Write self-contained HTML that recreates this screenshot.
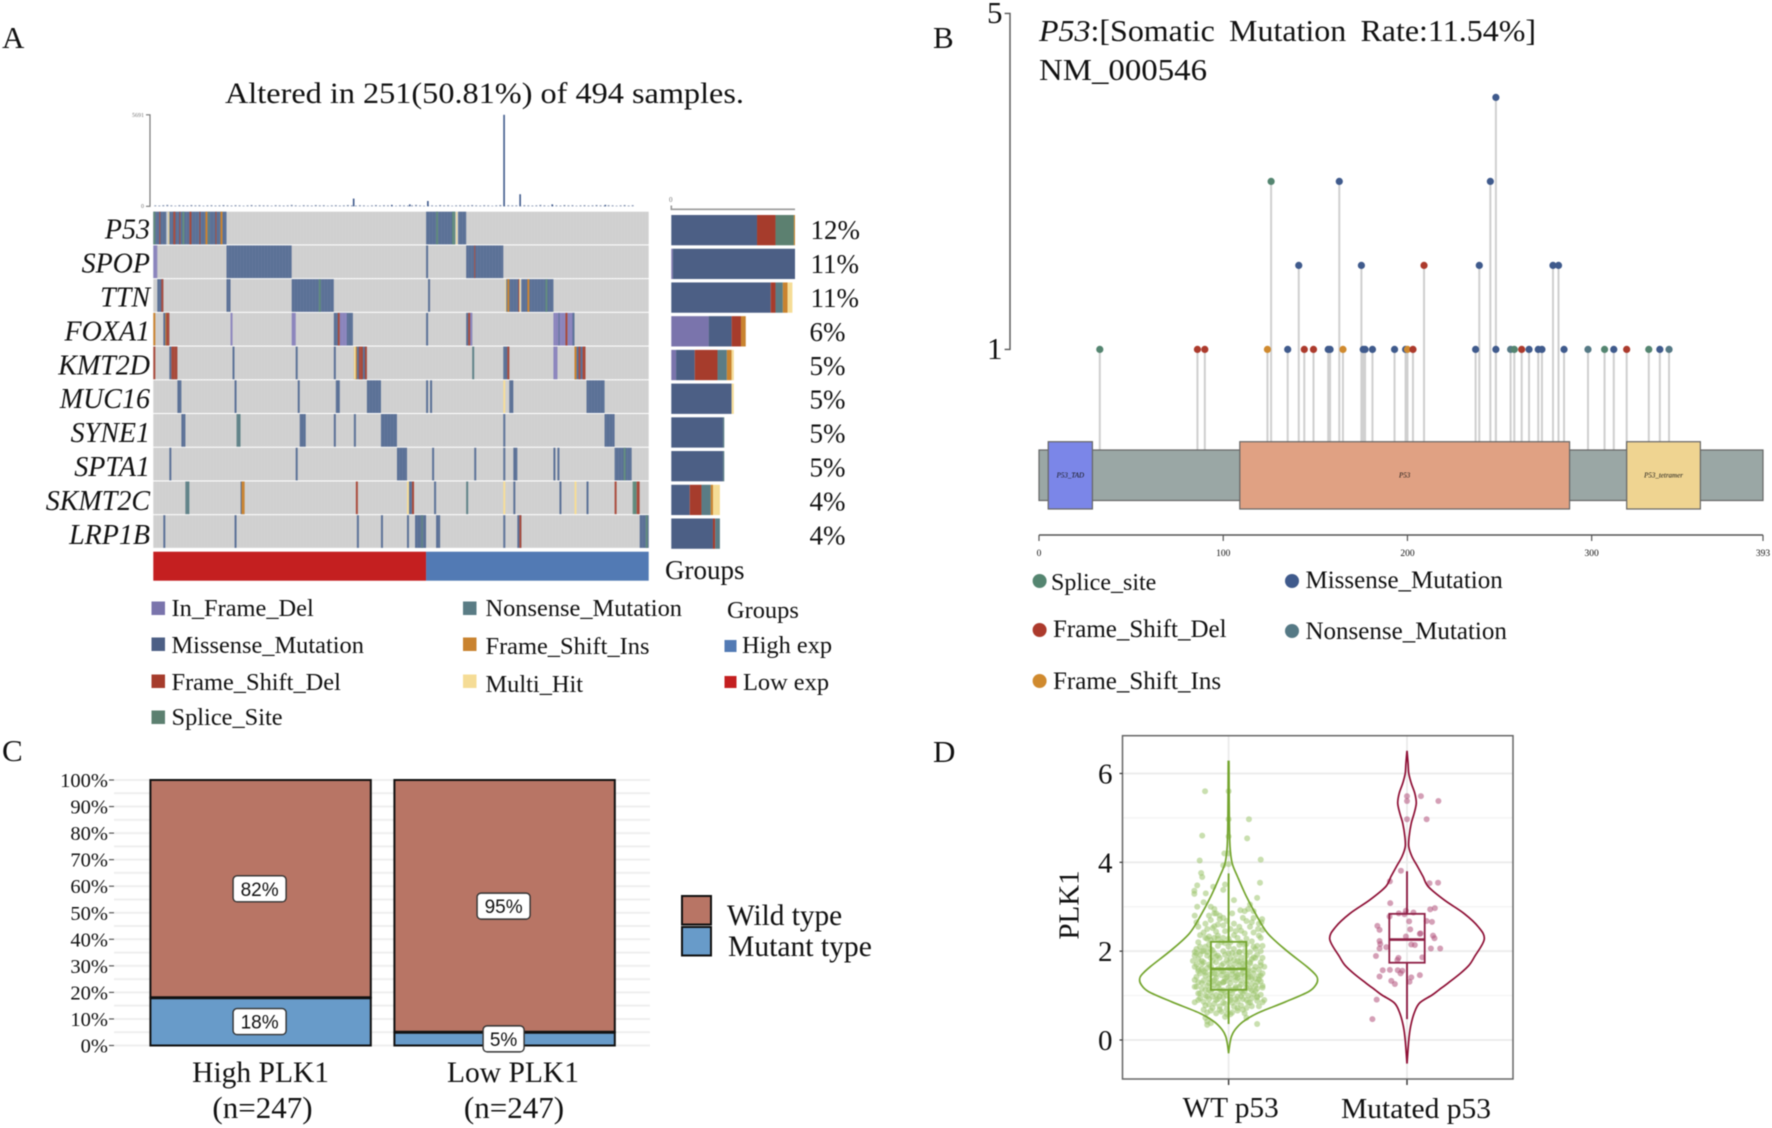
<!DOCTYPE html>
<html lang="en">
<head>
<meta charset="utf-8">
<title>P53 mutation figure</title>
<style>
html,body{margin:0;padding:0;background:#fff;}
svg{display:block;font-family:"Liberation Serif",serif;filter:blur(0.45px);}
text{fill:#111;}
</style>
</head>
<body>
<svg id="fig" xmlns="http://www.w3.org/2000/svg" width="1772" height="1128" viewBox="0 0 1772 1128">
<defs>
<pattern id="stripes" width="3" height="10" patternUnits="userSpaceOnUse"><rect width="1" height="10" fill="#fff" opacity="0.05"/></pattern>
</defs>
<rect width="1772" height="1128" fill="#fff"/>

<g id="panelA">
<text x="2" y="48" font-size="31">A</text>
<text x="225" y="103" font-size="30" textLength="519" lengthAdjust="spacingAndGlyphs">Altered in 251(50.81%) of 494 samples.</text>
<text x="665" y="579" font-size="27">Groups</text>

<g font-size="24.4">
<rect x="151.5" y="601.5" width="13.5" height="13.5" fill="#7a74ac"/>
<text x="171.5" y="616">In_Frame_Del</text>
<rect x="151.5" y="637.5" width="13.5" height="13.5" fill="#4c5f85"/>
<text x="171.5" y="653">Missense_Mutation</text>
<rect x="151.5" y="674.5" width="13.5" height="13.5" fill="#a63c2c"/>
<text x="171.5" y="690">Frame_Shift_Del</text>
<rect x="151.5" y="710.5" width="13.5" height="13.5" fill="#5c8070"/>
<text x="171.5" y="725">Splice_Site</text>
<rect x="463" y="601.5" width="13.5" height="13.5" fill="#5a7c85"/>
<text x="485.5" y="616">Nonsense_Mutation</text>
<rect x="463" y="637.5" width="13.5" height="13.5" fill="#c9832f"/>
<text x="485.5" y="654">Frame_Shift_Ins</text>
<rect x="463" y="674.5" width="13.5" height="13.5" fill="#f5dc96"/>
<text x="485.5" y="692">Multi_Hit</text>
<text x="727" y="618">Groups</text>
<rect x="724.5" y="640" width="12" height="12" fill="#527ab4"/>
<text x="742" y="653">High exp</text>
<rect x="724.5" y="676" width="12" height="12" fill="#c41f20"/>
<text x="743" y="690">Low exp</text>
</g>
</g>

<g id="panelB">
<text x="933" y="48" font-size="31">B</text>
<text x="1039" y="41" font-size="31" word-spacing="6" textLength="497" lengthAdjust="spacingAndGlyphs"><tspan font-style="italic">P53</tspan>:[Somatic Mutation Rate:11.54%]</text>
<text x="1039" y="80" font-size="31" textLength="168" lengthAdjust="spacingAndGlyphs">NM_000546</text>
<g font-size="25">
<circle cx="1039.6" cy="581" r="7" fill="#548570"/>
<text x="1051" y="590" font-size="24">Splice_site</text>
<circle cx="1039.6" cy="630" r="7" fill="#ac3a2c"/>
<text x="1053" y="637">Frame_Shift_Del</text>
<circle cx="1039.6" cy="681" r="7" fill="#d08a2e"/>
<text x="1053" y="689">Frame_Shift_Ins</text>
<circle cx="1292" cy="581" r="7" fill="#3f5a8c"/>
<text x="1305.5" y="588">Missense_Mutation</text>
<circle cx="1292" cy="631" r="7" fill="#557985"/>
<text x="1305.5" y="639">Nonsense_Mutation</text>
</g>
</g>

<g id="panelC">
<text x="2" y="761" font-size="31">C</text>
<g>
<rect x="682" y="896" width="29" height="28.5" fill="#b87565" stroke="#111" stroke-width="2"/>
<rect x="682" y="927" width="29" height="28.5" fill="#689bc9" stroke="#111" stroke-width="2"/>
<text x="727" y="925" font-size="29.3">Wild type</text>
<text x="728" y="956" font-size="29.6">Mutant type</text>
</g>
</g>

<g id="panelD">
<text x="933" y="762" font-size="31">D</text>
<text transform="translate(1078.5 905) rotate(-90)" text-anchor="middle" font-size="29">PLK1</text>
</g>
</svg>

<script>
/* ---------- Panel A data ---------- */
const geneNames = ['P53','SPOP','TTN','FOXA1','KMT2D','MUC16','SYNE1','SPTA1','SKMT2C','LRP1B'];
const genePercents = ['12%','11%','11%','6%','5%','5%','5%','5%','4%','4%'];
const groupSplit = [0,272,494];
const groupNames = ['Low exp','High exp'];
/* each entry: first sample, end sample, mutation class */
const mutsP53 = [[0,73,'M'],[0,2,'S'],[6,7,'D'],[13,15,'G'],[15,16,'H'],[20,22,'D'],[26,27,'D'],[29,31,'S'],[36,38,'D'],[46,47,'D'],[52,54,'I'],[55,56,'S'],[62,63,'D'],[67,69,'I'],[272,301,'M'],[282,284,'S'],[298,301,'S'],[302,303,'H'],[304,312,'M']];
const mutsSPOP = [[0,4,'F'],[73,138,'M'],[272,274,'M'],[312,349,'M'],[320,321,'D']];
const mutsTTN = [[4,10,'M'],[8,10,'D'],[73,77,'M'],[138,180,'M'],[165,167,'S'],[274,276,'M'],[351,352,'H'],[352,365,'M'],[353,355,'I'],[364,365,'D'],[365,366,'H'],[367,399,'M'],[373,375,'I'],[391,393,'S']];
const mutsFOXA1 = [[0,2,'I'],[10,16,'M'],[12,13,'I'],[13,16,'D'],[77,79,'F'],[138,142,'F'],[180,199,'M'],[184,186,'D'],[186,193,'F'],[272,274,'M'],[312,318,'M'],[314,316,'D'],[316,318,'F'],[399,420,'F'],[404,405,'M'],[411,413,'D'],[418,420,'M']];
const mutsKMT2D = [[0,2,'D'],[16,24,'M'],[18,24,'D'],[79,81,'M'],[142,144,'M'],[180,182,'M'],[200,213,'M'],[200,202,'H'],[202,203,'I'],[205,209,'D'],[211,213,'D'],[318,320,'N'],[349,355,'M'],[353,355,'D'],[399,403,'F'],[420,431,'M'],[420,422,'I'],[424,426,'D'],[428,431,'D']];
const mutsMUC16 = [[24,28,'M'],[81,83,'M'],[144,146,'M'],[182,186,'M'],[213,227,'M'],[272,274,'M'],[276,278,'M'],[349,351,'H'],[355,359,'M'],[432,450,'M']];
const mutsSYNE1 = [[28,32,'M'],[83,87,'N'],[146,152,'M'],[180,182,'M'],[200,202,'M'],[227,243,'M'],[349,351,'M'],[450,460,'M']];
const mutsSPTA1 = [[16,18,'M'],[142,144,'M'],[243,253,'M'],[278,280,'M'],[320,322,'M'],[349,351,'M'],[359,363,'M'],[399,401,'M'],[403,405,'M'],[460,477,'M'],[469,471,'S']];
const mutsSKMT2C = [[32,36,'N'],[87,91,'M'],[88,91,'I'],[202,204,'D'],[253,255,'H'],[255,258,'M'],[258,260,'D'],[280,282,'M'],[312,314,'N'],[349,351,'H'],[359,361,'M'],[405,407,'M'],[420,422,'H'],[432,434,'M'],[460,462,'D'],[478,482,'S'],[482,485,'D']];
const mutsLRP1B = [[10,12,'M'],[81,83,'M'],[203,205,'M'],[227,229,'M'],[253,255,'M'],[261,272,'M'],[267,269,'N'],[282,286,'M'],[349,351,'M'],[363,367,'M'],[365,367,'D'],[485,494,'M'],[491,493,'S']];
const geneMuts = [mutsP53,mutsSPOP,mutsTTN,mutsFOXA1,mutsKMT2D,mutsMUC16,mutsSYNE1,mutsSPTA1,mutsSKMT2C,mutsLRP1B];
/* side bar counts per class order: F M D S N I H */
const sideClasses = ['F','M','D','S','N','I','H'];
const sideP53 = [0,39.5,8.5,8.5,0,0.5,0];
const sideSPOP = [0.7,56.3,0,0,0,0,0];
const sideTTN = [0,45.8,2.2,0,3.4,2.2,2.2];
const sideFOXA1 = [17.2,10.6,4.3,0,0,2.2,0];
const sideKMT2D = [2.2,8.6,10.5,0,4.3,2.2,1];
const sideMUC16 = [0,27.8,0,0,0,0,1];
const sideSYNE1 = [0,23.8,0,0,0.6,0,0];
const sideSPTA1 = [0,23.8,0,0,0.6,0,0];
const sideSKMT2C = [0,8.5,5.4,0,4.3,1,3.2];
const sideLRP1B = [0,19.2,1,0,2.2,0,0];
const sideCounts = [sideP53,sideSPOP,sideTTN,sideFOXA1,sideKMT2D,sideMUC16,sideSYNE1,sideSPTA1,sideSKMT2C,sideLRP1B];
const sideMax = [57];
const tmbMax = [5691];
const tmbPeakSample = [199,237,255,273,349,365,397,450];
const tmbPeakValue = [480,90,120,330,5691,750,120,90];
const tmbLow = [60,50,70,90,60,40,70,60,50,80,60,70,40,60,70,50,60,80,60,50,70,60,40,60,80,50,70,60,60,40,70,60,50,60,90,60,40,70,60,50,80,60,70,40,60,70,50,60,80,60,50,70,60,40,60,80,50,70,60,60,40,70,60,50,60,90,60,40,70,60,50,80,60,70,40,60,70,50,60,80,60,50,70,60,40,60,80,50,70,60,60,40,70,60,50,60,90,60,40,70,60,50,80,60,70,40,60,70,50,60,80,60,50,70,60,40,60,80,50,70];

/* ---------- Panel B data ---------- */
const lolliPos = [33,86,90,124,135,144,149,157,158,165,176,177,181,193,199,200,203,237,248,256,258,262,266,271,273,285,298,307,312,319,331,337,342,141,175,209,239,279,282,126,163,245,248];
const lolliCount = [1,1,1,1,1,1,1,1,1,1,1,1,1,1,1,1,1,1,1,1,1,1,1,1,1,1,1,1,1,1,1,1,1,2,2,2,2,2,2,3,3,3,4];
const lolliType = ['S','D','D','I','M','D','D','M','M','I','M','M','M','M','M','I','D','M','M','N','S','D','M','M','M','M','N','S','M','D','S','M','N','M','M','D','M','M','M','S','M','M','M'];
const domainNames = ['P53_TAD','P53','P53_tetramer'];
const domainStart = [5,109,319];
const domainEnd = [29,288,359];
const proteinLength = [393];
const proteinTicks = [0,100,200,300,393];
const lolliYTicks = [1,5];

/* ---------- Panel C data ---------- */
const barCategories = ['High PLK1','Low PLK1'];
const barSampleLabels = ['(n=247)','(n=247)'];
const mutantPct = [18,5];
const wildPct = [82,95];
const pctTicks = [0,10,20,30,40,50,60,70,80,90,100];
const pctGrid = [0,5,10,15,20,25,30,35,40,45,50,55,60,65,70,75,80,85,90,95,100];

/* ---------- Panel D data ---------- */
const violinCats = ['WT p53','Mutated p53'];
const plkTicks = [0,2,4,6];
const plkGrid = [0,1,2,3,4,5,6];
const wtDensV = [6.27,4.95,4.35,3.98,3.68,3.23,2.78,2.40,2.03,1.65,1.46,1.35,1.24,1.09,0.86,0.60,0.41,0.23,0.08,-0.11,-0.30];
const wtDens = [0.004,0.008,0.016,0.04,0.1,0.2,0.32,0.44,0.64,0.88,0.98,1,0.98,0.9,0.64,0.32,0.16,0.072,0.032,0.012,0];
const mutDensV = [6.51,6.23,6.0,5.78,5.55,5.33,5.1,4.88,4.58,4.35,4.13,3.9,3.68,3.45,3.15,2.85,2.55,2.27,1.88,1.69,1.5,1.28,1.13,1.01,0.83,0.6,0.3,0,-0.53];
const mutDens = [0,0.012,0.02,0.048,0.088,0.104,0.08,0.048,0.024,0.02,0.056,0.12,0.18,0.24,0.42,0.64,0.8,0.868,0.76,0.7,0.6,0.46,0.36,0.28,0.14,0.08,0.04,0.02,0];
const wtBox = [0.36,1.13,1.6,2.21,3.75];
const mutBox = [0.47,1.74,2.26,2.84,3.8];
const wtJitter = [
-.132,0,.114,0,-.148,.104,0,-.024,0,-.162,
.18,-.03,0,-.154,-.148,-.176,.176,-.02,-.086,-.192,
-.192,-.128,-.03,.16,-.14,-.176,-.1,-.08,-.07,.12,
.11,.09,.066,.03,.02,-.11,-.08,-.05,-.03,.14,
-.19,-.18,-.17,.188,.184,.17,.19,.14,.1,.08,
-.09,-.08,-.06,-.03,-.02,.01,.03,.06,.09,.12,
-.14,-.13,-.12,-.11,-.1,-.08,-.06,-.04,0,.03,
.07,.1,.14,.165,.18,-.18,-.17,-.15,-.13,-.11,
-.09,-.06,-.03,0,.03,.06,.09,.12,.15,.18,
-.19,-.16,-.14,-.12,-.08,-.05,-.02,.01,.04,.07,
.1,.13,.16,.19,-.18,-.15,-.11,-.07,-.04,0,
.03,.06,.09,.12,.15,.18,-.19,-.17,-.14,-.12,
-.09,-.06,-.03,0,.04,.08,.11,.14,.17,.2,
-.18,-.16,-.13,-.1,-.07,-.04,-.01,.02,.05,.09,
.12,.15,.18,-.19,-.17,-.14,-.11,-.08,-.05,-.02,
.01,.04,.07,.1,.13,.16,.19,-.18,-.15,-.12,
-.09,-.06,-.03,0,.03,.06,.09,.12,.15,.19,
-.16,-.13,-.1,-.07,-.04,-.01,.02,.05,.08,.11,
.14,.16,.18,.2,-.19,-.17,-.14,-.11,-.07,-.03,
.01,.05,.08,.12,.16,.19,-.13,-.09,-.05,-.01,
.03,.07,.1,.13,-.12,-.1,-.07,-.04,-.01,.02,
.05,.09,-.13,-.12,-.1,.1,-.02,.01,-.12,.16,
-.07,-.01,.05,.11,.17,-.15,-.08,-.02,.04,.1,
.13,.07,-.05,-.11,-.17,.17,-.03,.02,.08,.14,
-.18,-.15,-.12,-.09,-.06,-.03,0,.03,.06,.09,
.12,.15,.18,-.17,-.13,-.1,-.07,-.04,-.01,.02,
.05,.08,.11,.14,.17,.19,-.19,-.15,-.11,-.08,
-.05,-.02,.01,.04,.07,.1,.13,.16,-.16,-.12,
-.09,-.06,-.03,.01,.04,.07,.1,.13,.16,-.14,
-.11,-.08,-.05,-.02,.02,.05,.08,.11,-.13,-.1,
-.05,-.01,.04,.07,.13,.17,-.16,-.12,-.07,-.03,
.01,.05,.09,.13,.16,-.19,-.16,-.1,-.06,-.02,
.02,.06,.1,.14,.19,-.2,-.17,-.14,-.1,.06,
-.03,-.06,-.09,.01,.11,.15,.18,-.13,.04,.07];
const wtValues = [
5.6,5.6,4.97,4.97,4.6,4.54,4.58,4.2,4.2,4.04,
4.06,3.93,3.96,3.76,3.67,3.48,3.54,3.5,3.45,3.36,
3.29,3.3,3.38,3.2,3.1,3.0,3.0,2.95,2.85,3.05,
2.95,2.9,2.92,3.15,2.85,2.8,2.85,2.8,2.75,2.9,
2.8,2.65,2.55,2.72,2.65,2.62,2.48,2.75,2.68,2.75,
2.52,2.56,2.6,2.58,2.45,2.5,2.62,2.55,2.4,2.55,
2.42,2.3,2.28,2.33,2.25,2.3,2.35,2.2,2.28,2.36,
2.2,2.28,2.42,2.5,2.3,2.05,2.2,2.0,2.1,2.15,
2.02,2.12,2.0,2.1,2.05,2.14,2.0,1.98,2.05,2.0,
1.98,1.92,2.0,1.9,1.95,1.85,1.92,1.84,1.92,1.86,
1.9,1.82,1.92,1.85,1.7,1.78,1.7,1.75,1.68,1.74,
1.7,1.76,1.66,1.72,1.65,1.68,1.65,1.6,1.55,1.62,
1.58,1.6,1.55,1.62,1.52,1.6,1.55,1.5,1.58,1.65,
1.42,1.5,1.45,1.48,1.4,1.46,1.42,1.48,1.4,1.44,
1.42,1.38,1.45,1.35,1.3,1.34,1.28,1.35,1.26,1.32,
1.28,1.34,1.25,1.32,1.26,1.3,1.22,1.2,1.16,1.22,
1.15,1.2,1.12,1.18,1.14,1.2,1.1,1.16,1.1,1.18,
1.05,1.0,1.08,1.02,1.06,1.0,1.05,0.98,1.05,1.0,
1.04,0.98,1.02,0.9,0.85,0.9,0.86,0.92,0.9,0.84,
0.9,0.86,0.92,0.84,0.88,0.85,0.78,0.72,0.76,0.7,
0.75,0.78,0.72,0.76,0.62,0.66,0.6,0.64,0.58,0.62,
0.66,0.6,0.5,0.42,0.38,0.5,0.52,0.58,0.34,0.36,
1.88,1.8,1.78,1.6,1.44,1.6,1.5,1.38,1.2,1.26,
1.12,1.1,0.98,1.12,1.05,0.76,1.3,1.62,1.72,1.86,
1.95,1.72,1.98,1.78,1.9,1.72,1.95,1.8,1.98,1.78,
1.75,1.85,1.75,1.55,1.52,1.66,1.48,1.55,1.48,1.56,
1.46,1.52,1.48,1.58,1.36,1.5,1.2,1.28,1.38,1.24,
1.14,1.08,1.12,1.16,1.34,1.18,1.38,1.16,0.94,0.98,
0.98,0.92,0.96,0.96,0.92,0.98,0.9,0.94,0.96,0.68,
0.8,0.82,0.68,0.82,0.84,0.72,0.68,0.84,2.62,2.7,
2.72,2.68,2.45,2.46,2.65,2.35,2.36,2.5,2.44,2.3,
2.2,2.3,2.14,2.22,2.12,1.9,2.1,2.05,2.28,2.18,
1.96,1.98,2.16,2.1,2.12,1.78,1.82,1.75,1.85,1.68,
1.3,1.28,1.32,1.38,1.42,1.22,1.32,1.12,1.42,1.48];
const mutJitter = [0,.078,0,.176,0,.11,-.034,-.096,.126,.174,-.094,.156,.13,-.006,-.046,.036,-.014,-.098,.11,.14,.012,-.166,-.154,.018,.076,.072,.146,.154,-.006,-.154,-.15,.024,.044,-.116,-.154,.134,.186,-.174,.086,-.048,-.054,-.136,-.096,-.052,-.026,-.036,-.154,.072,.024,-.088,-.068,.014,-.17,-.194];
const mutValues = [5.49,5.49,5.38,5.38,4.97,4.97,3.81,3.57,3.53,3.54,3.08,2.97,2.94,2.91,2.85,2.87,2.83,2.78,2.68,2.66,2.67,2.57,2.48,2.49,2.40,2.39,2.35,2.29,2.33,2.23,2.16,2.15,2.14,2.09,2.06,2.06,2.06,1.89,1.86,1.85,1.80,1.57,1.58,1.57,1.56,1.50,1.43,1.46,1.41,1.33,1.26,1.31,0.91,0.47];

/* ---------- helpers ---------- */
const NS = 'http://www.w3.org/2000/svg';
function mk(tag, attrs, parent, txt){
  const e = document.createElementNS(NS, tag);
  for (const k in attrs) e.setAttribute(k, attrs[k]);
  if (txt !== undefined) e.textContent = txt;
  parent.appendChild(e);
  return e;
}
function smooth(pts){
  let d = 'M' + pts[0][0] + ' ' + pts[0][1];
  for (let i = 0; i < pts.length - 1; i++){
    const p0 = pts[Math.max(i-1,0)], p1 = pts[i], p2 = pts[i+1], p3 = pts[Math.min(i+2,pts.length-1)];
    d += 'C' + (p1[0]+(p2[0]-p0[0])/6) + ' ' + (p1[1]+(p2[1]-p0[1])/6) + ' ' + (p2[0]-(p3[0]-p1[0])/6) + ' ' + (p2[1]-(p3[1]-p1[1])/6) + ' ' + p2[0] + ' ' + p2[1];
  }
  return d;
}
const matrixColor = {M:'#5a7096',D:'#a8493a',S:'#5f8a7c',N:'#5f8288',I:'#c9832f',H:'#f5dc96',F:'#8a84bc',G:'#d0d0d0'};
const sideColor = {F:'#7a74ac',M:'#4c5f85',D:'#a63c2c',S:'#5c8070',N:'#5a7c85',I:'#c9832f',H:'#f5dc96'};
const lolliColor = {S:'#548570',D:'#ac3a2c',I:'#d08a2e',M:'#3f5a8c',N:'#557985'};
const domainColor = ['#7b86e8','#e0a183','#efd491'];

/* ---------- Panel A ---------- */
(function(){
  const root = document.getElementById('panelA');
  const sx = s => 153.3 + s * 495.4 / 494;
  const rowY = i => 211.7 + i * 33.72;
  const rowH = 32.7;
  const tmbY = v => 206.3 - v / tmbMax[0] * 91.5;
  const sideX = v => 671.3 + v / sideMax[0] * 123.7;

  /* TMB bars */
  const tmbAxis = mk('path',{d:'M146 114.8H150V206.3H146',fill:'none',stroke:'#777','stroke-width':1.2},root);
  
  
  const tmbTop = mk('text',{x:144,y:117,'font-size':6,'text-anchor':'end',style:'fill:#777'},root,String(tmbMax[0]));
  
  
  const tmbZero = mk('text',{x:144,y:208,'font-size':6,'text-anchor':'end',style:'fill:#777'},root,'0');
  
  
  tmbLow.forEach((v,i)=>{
    const b = mk('rect',{x:sx(i*4+1),y:tmbY(v),width:2,height:206.3-tmbY(v),fill:'#7f8fae'},root);
    
    
  });
  tmbPeakSample.forEach((s,i)=>{
    const b = mk('rect',{x:sx(s),y:tmbY(tmbPeakValue[i]),width:1.6,height:206.3-tmbY(tmbPeakValue[i]),fill:'#3f5a8c'},root);
    
    
  });

  /* matrix */
  geneNames.forEach((g,i)=>{
    const y = rowY(i);
    const bg = mk('rect',{x:sx(0),y:y,width:sx(494)-sx(0),height:rowH,fill:'#d0d0d0'},root);
    
    
    geneMuts[i].forEach(m=>{
      const c = mk('rect',{x:sx(m[0]),y:y,width:sx(m[1])-sx(m[0]),height:rowH,fill:matrixColor[m[2]]},root);
      
      
    });
    const lab = mk('text',{x:150,y:238.7+i*33.9,'font-size':28,'font-style':'italic','text-anchor':'end'},root,g);
    
    
    const pct = mk('text',{x:genePercents[i].length>2?810.5:809.5,y:239.2+i*33.9,'font-size':27},root,genePercents[i]);
    
    
    let acc = 0;
    sideCounts[i].forEach((v,k)=>{
      if (!v) return;
      const s = mk('rect',{x:sideX(acc),y:215+i*33.72,width:sideX(acc+v)-sideX(acc),height:30.3,fill:sideColor[sideClasses[k]]},root);
      
      
      acc += v;
    });
  });
  const ov = mk('rect',{x:sx(0),y:rowY(0),width:sx(494)-sx(0),height:rowY(10)-rowY(0),fill:'url(#stripes)'},root);
  
  

  /* groups */
  const groupFill = ['#c41f20','#527ab4'];
  groupNames.forEach((g,i)=>{
    const r = mk('rect',{x:sx(groupSplit[i]),y:551.7,width:sx(groupSplit[i+1])-sx(groupSplit[i]),height:29,fill:groupFill[i]},root);
    
    
  });

  /* side axis */
  const sa = mk('path',{d:'M671.3 205.5V209.3H795',fill:'none',stroke:'#999','stroke-width':1.6},root);
  
  
  const s0 = mk('text',{x:669,y:202,'font-size':7,style:'fill:#777'},root,'0');
  
  
})();

/* ---------- Panel B ---------- */
(function(){
  const root = document.getElementById('panelB');
  const ax = a => 1039 + a / proteinLength[0] * 724;
  const cy = c => 349.4 - (c - 1) * 84;
  const yAxis = mk('path',{d:'M1004.6 '+cy(5)+'H1010V'+cy(1)+'H1004.6',fill:'none',stroke:'#555','stroke-width':1.4},root);
  
  
  lolliYTicks.forEach(t=>{
    const l = mk('text',{x:1002.5,y:cy(t)+9.5,'font-size':31,'text-anchor':'end'},root,String(t));
    
    
  });
  lolliPos.forEach((p,i)=>{
    const st = mk('line',{x1:ax(p),x2:ax(p),y1:cy(lolliCount[i]),y2:450,stroke:'#cfcfcf','stroke-width':2},root);
    
    
  });
  const bb = mk('rect',{x:ax(0),y:450,width:ax(proteinLength[0])-ax(0),height:50.5,fill:'#9aa7a5',stroke:'#666','stroke-width':1.2},root);
  
  
  domainNames.forEach((n,i)=>{
    const r = mk('rect',{x:ax(domainStart[i]),y:441.7,width:ax(domainEnd[i])-ax(domainStart[i]),height:67.3,fill:domainColor[i],stroke:'#666','stroke-width':1.2},root);
    
    
    const t = mk('text',{x:(ax(domainStart[i])+ax(domainEnd[i]))/2,y:477.5,'font-size':7,'font-style':'italic','text-anchor':'middle'},root,n);
    
    
  });
  lolliPos.forEach((p,i)=>{
    const d = mk('circle',{cx:ax(p),cy:cy(lolliCount[i]),r:3.6,fill:lolliColor[lolliType[i]]},root);
    
    
  });
  const xa = mk('line',{x1:ax(0),x2:ax(proteinLength[0]),y1:535,y2:535,stroke:'#555','stroke-width':1.4},root);
  
  
  proteinTicks.forEach(t=>{
    const k = mk('line',{x1:ax(t),x2:ax(t),y1:535,y2:541,stroke:'#555','stroke-width':1.2},root);
    
    
    const l = mk('text',{x:ax(t),y:556,'font-size':9.5,'text-anchor':'middle'},root,String(t));
    
    
  });
})();

/* ---------- Panel C ---------- */
(function(){
  const root = document.getElementById('panelC');
  const py = p => 1045.5 - p / 100 * 265.5;
  const barLeft = i => 150.4 + i * 244;
  const barW = 220.4;
  pctGrid.forEach(g=>{
    const l = mk('line',{x1:114,x2:650,y1:py(g),y2:py(g),stroke:'#efefef','stroke-width':2},root);
    
    
  });
  pctTicks.forEach(t=>{
    const k = mk('line',{x1:109,x2:114,y1:py(t),y2:py(t),stroke:'#555','stroke-width':1.2},root);
    
    
    const l = mk('text',{x:108,y:py(t)+7,'font-size':20.5,'text-anchor':'end'},root,t+'%');
    
    
  });
  barCategories.forEach((c,i)=>{
    const x = barLeft(i);
    const w = mk('rect',{x:x,y:py(100),width:barW,height:py(mutantPct[i])-py(100),fill:'#b87565',stroke:'#111','stroke-width':2},root);
    
    
    const m = mk('rect',{x:x,y:py(mutantPct[i]),width:barW,height:py(0)-py(mutantPct[i]),fill:'#689bc9',stroke:'#111','stroke-width':2},root);
    
    
    const bd = mk('line',{x1:x,x2:x+barW,y1:py(mutantPct[i]),y2:py(mutantPct[i]),stroke:'#111','stroke-width':3},root);
    
    
    const cx = x + barW / 2 - 1;
    const tags = [[mutantPct[i]+wildPct[i]/2, wildPct[i]],[mutantPct[i]/2, mutantPct[i]]];
    tags.forEach(tg=>{
      const bw = tg[1] < 10 ? 41 : 53;
      const r = mk('rect',{x:cx-bw/2,y:py(tg[0])-13,width:bw,height:26,rx:4,fill:'#fff',stroke:'#333','stroke-width':1.4},root);
      
      
      const t = mk('text',{x:cx,y:py(tg[0])+7,'font-size':19,'text-anchor':'middle',style:'font-family:"Liberation Sans",sans-serif'},root,tg[1]+'%');
      
      
    });
    const labelX = [260.6,513][i];
    const a = mk('text',{x:labelX,y:1082,'font-size':29.5,'text-anchor':'middle'},root,c);
    
    
    const b = mk('text',{x:[262.5,514][i],y:1118,'font-size':31,'text-anchor':'middle'},root,barSampleLabels[i]);
    
    
  });
})();

/* ---------- Panel D ---------- */
(function(){
  const root = document.getElementById('panelD');
  const vy = v => 1040 - v * 44.42;
  const cx = c => 1228.6 + c * 178.4;
  const widthScale = 89;
  const jitterScale = 178.4;
  plkGrid.forEach(g=>{
    const l = mk('line',{x1:1122.5,x2:1513,y1:vy(g),y2:vy(g),stroke:g%2?'#f3f3f3':'#ebebeb','stroke-width':g%2?1.2:1.8},root);
    
    
  });
  violinCats.forEach((c,i)=>{
    const l = mk('line',{x1:cx(i),x2:cx(i),y1:735.7,y2:1079,stroke:'#ebebeb','stroke-width':1.8},root);
    
    
    const k = mk('line',{x1:cx(i),x2:cx(i),y1:1079,y2:1085,stroke:'#333','stroke-width':1.4},root);
    
    
  });
  const frame = mk('rect',{x:1122.5,y:735.7,width:390.5,height:343.3,fill:'none',stroke:'#666','stroke-width':1.5},root);
  
  

  plkTicks.forEach(t=>{
    const k = mk('line',{x1:1119.5,x2:1122.5,y1:vy(t),y2:vy(t),stroke:'#333','stroke-width':1.2},root);
    
    
    const l = mk('text',{x:1112.5,y:vy(t)+10,'font-size':29,'text-anchor':'end'},root,String(t));
    
    
  });

  function violin(i, vals, dens, color){
    const left = vals.map((v,k)=>[cx(i)-dens[k]*widthScale, vy(v)]);
    const right = vals.map((v,k)=>[cx(i)+dens[k]*widthScale, vy(v)]);
    const d = smooth(left) + smooth(right.slice().reverse()).replace(/^M[^C]*/,'') + 'Z';
    const p = mk('path',{d:d,fill:'none',stroke:color,'stroke-width':1.7},root);
    
    
  }
  function points(i, jit, vals, color){
    vals.forEach((v,k)=>{
      const c = mk('circle',{cx:cx(i)+jit[k]*jitterScale,cy:vy(v),r:3,fill:color,'fill-opacity':0.55},root);
      
      
    });
  }
  function box(i, b, color){
    const hw = 17.7;
    const x = cx(i);
    const wh = mk('path',{d:'M'+x+' '+vy(b[0])+'V'+vy(b[1])+'M'+x+' '+vy(b[3])+'V'+vy(b[4]),fill:'none',stroke:color,'stroke-width':1.9},root);
    
    
    const r = mk('rect',{x:x-hw,y:vy(b[3]),width:2*hw,height:vy(b[1])-vy(b[3]),fill:'none',stroke:color,'stroke-width':1.8},root);
    
    
    const m = mk('line',{x1:x-hw,x2:x+hw,y1:vy(b[2]),y2:vy(b[2]),stroke:color,'stroke-width':2.6},root);
    
    
  }
  points(0, wtJitter, wtValues, '#9cc46e');
  points(1, mutJitter, mutValues, '#b0507a');
  violin(0, wtDensV, wtDens, '#74a52e');
  violin(1, mutDensV, mutDens, '#8e0f35');
  box(0, wtBox, '#74a52e');
  box(1, mutBox, '#8e1f45');

  violinCats.forEach((c,i)=>{
    const attrs = {x:[1230.7,1416][i],y:[1117,1118][i],'font-size':29,'text-anchor':'middle',textLength:[96,150][i],lengthAdjust:'spacingAndGlyphs'};
    const t = mk('text',attrs,root,c);
    
    
  });
})();
</script>
</body>
</html>
